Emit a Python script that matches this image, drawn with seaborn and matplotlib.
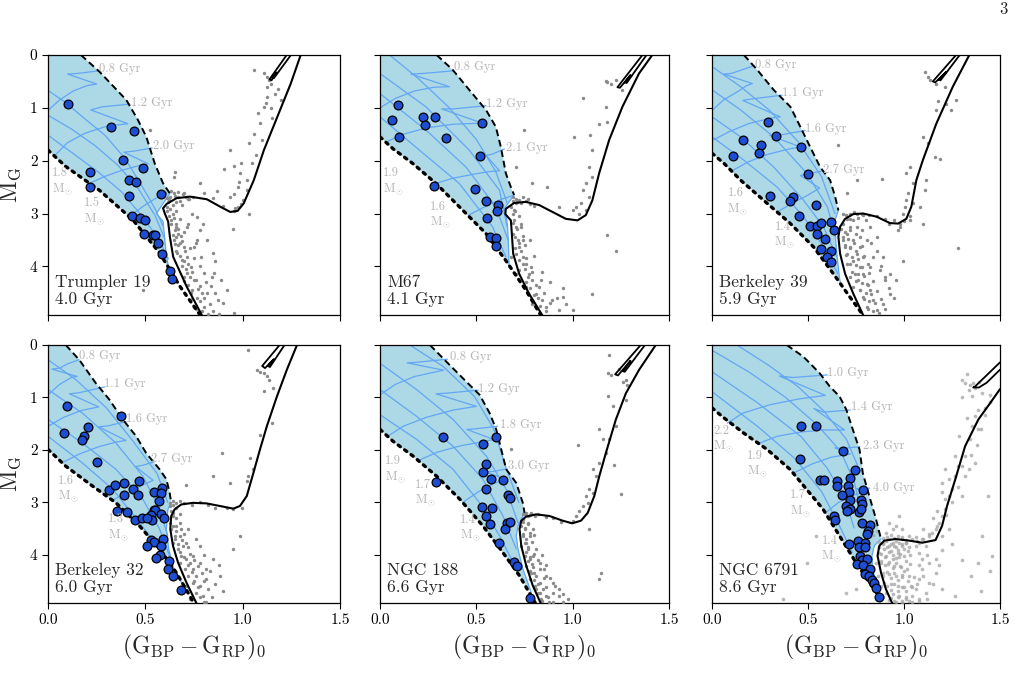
import matplotlib
matplotlib.use("Agg")
import matplotlib.pyplot as plt
import seaborn as sns

# ---------------- data ----------------
CLUSTER_NAMES = ["Trumpler 19", "M67", "Berkeley 39", "Berkeley 32", "NGC 188", "NGC 6791"]
CLUSTER_AGES = ["4.0 Gyr", "4.1 Gyr", "5.9 Gyr", "6.0 Gyr", "6.6 Gyr", "8.6 Gyr"]
X_TICKS = [0.0, 0.5, 1.0, 1.5]
X_TICK_LABELS = ["0.0", "0.5", "1.0", "1.5"]
Y_TICKS = [0, 1, 2, 3, 4]
Y_TICK_LABELS = ["0", "1", "2", "3", "4"]

# ---- Trumpler 19 ----
TR19_ZAMS = [(0, 1.80), (0.091, 2.11), (0.264, 2.56), (0.436, 3.12), (0.574, 3.75), (0.678, 4.38), (0.781, 4.92)]
TR19_TAMS = [(0.169, 0), (0.264, 0.315), (0.402, 0.85), (0.462, 1.23), (0.505, 1.55), (0.548, 2.05), (0.591, 2.43), (0.626, 2.62)]
TR19_EDGE = [(0.626, 2.62), (0.557, 3.0), (0.591, 3.15), (0.600, 3.5), (0.609, 3.82), (0.622, 4.07), (0.645, 4.2)]
TR19_ISO = [(0.79, 4.92), (0.712, 4.38), (0.643, 3.82), (0.626, 3.44), (0.617, 3.15), (0.60, 3.0), (0.591, 2.90),
            (0.609, 2.82), (0.66, 2.71), (0.729, 2.68), (0.816, 2.73), (0.884, 2.87), (0.936, 2.97), (0.974, 2.95),
            (1.005, 2.81), (1.057, 2.37), (1.109, 1.80), (1.178, 1.17), (1.247, 0.54), (1.298, 0.0)]
TR19_CLUMP = [(1.226, 0.0), (1.138, 0.46), (1.148, 0.48), (1.175, 0.33), (1.150, 0.42), (1.160, 0.44), (1.248, 0.0)]
TR19_BSS = [(0.103, 0.92), (0.324, 1.37), (0.44, 1.44), (0.386, 1.99), (0.49, 2.14), (0.216, 2.21), (0.216, 2.50),
            (0.414, 2.37), (0.452, 2.41), (0.414, 2.67), (0.581, 2.63), (0.431, 3.04), (0.471, 3.09), (0.50, 3.12),
            (0.495, 3.39), (0.54, 3.40), (0.548, 3.40), (0.566, 3.56), (0.588, 3.76), (0.626, 4.08), (0.636, 4.23)]
TR19_GREY = [(1.057, 0.28), (1.109, 0.35), (1.126, 0.41), (1.134, 0.47), (1.147, 0.54), (1.126, 0.60), (1.164, 0.73),
             (1.198, 0.85), (1.126, 0.80), (1.112, 0.98), (1.147, 1.01), (1.091, 1.29), (1.06, 1.50), (1.031, 1.67),
             (0.936, 1.80), (0.953, 2.11), (0.905, 2.15), (0.988, 2.24), (1.022, 2.37), (0.974, 2.49), (0.953, 2.63),
             (0.936, 2.68), (0.991, 2.82), (0.974, 2.88), (0.953, 2.95), (0.867, 2.57), (0.781, 2.43), (0.652, 2.21),
             (0.647, 2.30), (0.522, 1.42), (0.629, 2.68), (0.647, 2.62), (0.669, 2.68), (0.691, 2.63), (0.709, 2.68),
             (0.726, 2.73), (0.747, 2.68), (0.66, 2.79), (0.686, 2.83), (0.617, 2.79), (0.609, 2.87), (0.629, 2.91),
             (0.643, 3.0), (0.634, 3.12), (0.66, 3.19), (0.652, 3.31), (0.669, 3.38), (0.647, 3.50), (0.678, 3.56),
             (0.698, 3.63), (0.664, 3.75), (0.716, 3.82), (0.686, 3.88), (0.733, 4.01), (0.712, 4.13), (0.75, 4.26),
             (0.781, 4.38), (0.816, 4.51), (0.764, 4.59), (0.802, 4.76), (0.85, 4.84), (0.871, 4.64), (0.957, 4.89),
             (0.802, 4.13), (0.853, 4.13), (0.75, 3.63), (0.716, 3.25), (0.767, 3.50), (0.784, 3.82), (0.698, 4.27),
             (0.733, 4.51), (0.75, 4.76), (0.836, 4.38), (0.764, 3.06), (0.781, 3.31), (0.85, 3.75), (0.888, 4.26),
             (0.798, 3.20), (0.816, 3.50), (0.488, 4.45)]
TR19_GREY2 = [(0.60, 2.62), (0.61, 2.70), (0.63, 2.58), (0.65, 2.66), (0.62, 2.75), (0.64, 2.83), (0.67, 2.60),
              (0.70, 2.62), (0.72, 2.72), (0.68, 2.76), (0.61, 2.95), (0.62, 3.05), (0.63, 3.20), (0.645, 3.08),
              (0.655, 3.25), (0.64, 3.40), (0.66, 3.45), (0.67, 3.30), (0.685, 3.42), (0.65, 3.58), (0.67, 3.60),
              (0.69, 3.52), (0.705, 3.70), (0.66, 3.70), (0.68, 3.80), (0.70, 3.90), (0.72, 3.95), (0.69, 4.00),
              (0.71, 4.05), (0.74, 4.10), (0.70, 4.20), (0.73, 4.20), (0.76, 4.25), (0.72, 4.35), (0.74, 4.45),
              (0.77, 4.42), (0.79, 4.50), (0.74, 4.62), (0.78, 4.65), (0.80, 4.60), (0.76, 4.80), (0.79, 4.85),
              (0.83, 4.72), (0.82, 4.90), (0.86, 4.50), (0.90, 4.70), (0.75, 3.85), (0.73, 3.65), (0.76, 3.55),
              (0.70, 3.35), (0.72, 3.20), (0.68, 3.10), (0.66, 2.95), (0.74, 3.0), (0.78, 4.0), (0.81, 4.3),
              (0.84, 4.2), (0.88, 4.9), (0.92, 4.45), (0.86, 3.9), (0.80, 2.62), (0.85, 2.70), (0.90, 2.85),
              (0.96, 2.90), (1.00, 2.75), (1.02, 2.55), (0.98, 2.40), (1.05, 2.05), (1.07, 1.90), (1.10, 1.60),
              (1.15, 1.20), (1.08, 1.10), (0.99, 2.05), (1.03, 3.0), (0.95, 3.30), (1.12, 0.9), (1.18, 0.65)]
TR19_TRACKS = [
    [(0.0, 1.05), (0.06, 0.85), (0.13, 0.68), (0.20, 0.58), (0.25, 0.55), (0.10, 0.36), (0.15, 0.35), (0.26, 0.30)],
    [(0.03, 1.92), (0.10, 1.66), (0.19, 1.48), (0.30, 1.35), (0.41, 1.30), (0.22, 1.04), (0.28, 0.98), (0.42, 0.93)],
    [(0.20, 2.45), (0.29, 2.30), (0.39, 2.17), (0.47, 2.09), (0.515, 2.06), (0.39, 1.84), (0.44, 1.82), (0.535, 1.76)],
    [(0.42, 3.05), (0.49, 2.86), (0.55, 2.72), (0.60, 2.62)],
]
TR19_BLUEISO = [
    [(0, 0.67), (0.087, 0.89), (0.19, 1.21), (0.293, 1.52), (0.396, 1.96), (0.481, 2.47), (0.55, 2.91), (0.59, 3.23)],
    [(0, 1.14), (0.12, 1.40), (0.24, 1.71), (0.36, 2.09), (0.464, 2.53), (0.55, 3.04), (0.60, 3.48)],
    [(0, 1.52), (0.12, 1.84), (0.26, 2.22), (0.378, 2.59), (0.481, 3.04), (0.567, 3.48), (0.618, 3.86)],
]
TR19_AGE_LABELS = [("0.8 Gyr", 0.264, 0.27), ("1.2 Gyr", 0.428, 0.91), ("2.0 Gyr", 0.54, 1.72)]
TR19_MASS_LABELS = [("1.8", 0.02, 2.40), ("1.5", 0.186, 2.97)]

# ---- M67 ----
M67_ZAMS = [(0, 1.55), (0.066, 1.77), (0.169, 2.05), (0.29, 2.43), (0.411, 2.87), (0.55, 3.38), (0.653, 3.89), (0.757, 4.45), (0.835, 4.93)]
M67_TAMS = [(0.294, 0), (0.377, 0.28), (0.463, 0.66), (0.55, 1.04), (0.601, 1.36), (0.627, 1.74), (0.653, 2.24), (0.679, 2.50), (0.696, 2.65)]
M67_EDGE = [(0.696, 2.65), (0.644, 2.91), (0.653, 3.0), (0.662, 3.25), (0.667, 3.63), (0.67, 4.02)]
M67_ISO = [(0.843, 4.93), (0.774, 4.52), (0.722, 4.14), (0.691, 3.76), (0.684, 3.38), (0.679, 3.13), (0.65, 3.01),
           (0.653, 2.91), (0.696, 2.80), (0.757, 2.78), (0.826, 2.84), (0.895, 2.97), (0.964, 3.10), (1.025, 3.13),
           (1.068, 3.03), (1.102, 2.75), (1.137, 2.24), (1.189, 1.61), (1.258, 0.98), (1.344, 0.35), (1.413, 0.0)]
M67_CLUMP = [(1.362, 0.0), (1.232, 0.61), (1.245, 0.62), (1.30, 0.38), (1.27, 0.52), (1.28, 0.53), (1.383, 0.0)]
M67_BSS = [(0.093, 0.95), (0.064, 1.23), (0.097, 1.55), (0.221, 1.18), (0.232, 1.33), (0.285, 1.18), (0.342, 1.57),
           (0.53, 1.28), (0.518, 1.91), (0.282, 2.47), (0.492, 2.53), (0.55, 2.76), (0.61, 2.84), (0.605, 2.96),
           (0.553, 3.08), (0.572, 3.44), (0.601, 3.46), (0.601, 3.62)]
M67_GREY = [(1.18, 0.51), (1.198, 0.54), (1.223, 0.47), (1.175, 0.49), (1.258, 0.66), (1.054, 0.82), (1.172, 0.98),
            (1.18, 1.26), (1.137, 1.30), (1.089, 1.52), (1.007, 1.55), (1.102, 1.80), (1.085, 2.12), (1.102, 2.31),
            (1.068, 2.43), (1.051, 2.56), (1.085, 2.68), (1.042, 2.81), (1.016, 2.87), (1.068, 2.94), (1.033, 3.0),
            (0.999, 2.94), (0.93, 2.87), (0.869, 2.50), (0.791, 2.43), (0.705, 2.12), (0.748, 1.42), (1.18, 3.41),
            (1.223, 3.70), (1.102, 4.52), (0.688, 2.68), (0.705, 2.72), (0.722, 2.74), (0.74, 2.68), (0.766, 2.72),
            (0.705, 2.81), (0.679, 2.87), (0.696, 2.94), (0.688, 3.0), (0.696, 3.13), (0.705, 3.25), (0.688, 3.38),
            (0.714, 3.51), (0.722, 3.63), (0.705, 3.76), (0.74, 3.82), (0.757, 3.95), (0.722, 4.07), (0.774, 4.14),
            (0.791, 4.26), (0.757, 4.39), (0.826, 4.39), (0.809, 4.52), (0.843, 4.64), (0.791, 4.71), (0.86, 4.77),
            (0.93, 4.83), (0.895, 4.64), (0.964, 4.71), (0.835, 4.26), (0.783, 4.01), (0.74, 3.51), (0.731, 3.25),
            (0.947, 4.58), (0.999, 4.83), (0.766, 4.52), (0.705, 4.14), (0.679, 3.82)]
M67_GREY2 = [(0.69, 2.76), (0.71, 2.78), (0.73, 2.80), (0.76, 2.76), (0.78, 2.82), (0.80, 2.86), (0.70, 2.95),
             (0.72, 3.05), (0.69, 3.18), (0.71, 3.30), (0.73, 3.20), (0.70, 3.45), (0.72, 3.55), (0.74, 3.42),
             (0.70, 3.65), (0.73, 3.70), (0.75, 3.60), (0.72, 3.88), (0.74, 3.95), (0.76, 3.85), (0.75, 4.05),
             (0.77, 4.20), (0.79, 4.10), (0.76, 4.30), (0.78, 4.40), (0.81, 4.35), (0.80, 4.55), (0.82, 4.60),
             (0.85, 4.50), (0.83, 4.75), (0.86, 4.85), (0.88, 4.70), (0.90, 4.95), (0.82, 4.95), (0.88, 4.30),
             (0.92, 4.60), (0.78, 3.50), (0.80, 3.80), (0.84, 4.10), (0.95, 4.40)]
M67_TRACKS = [
    [(0.0, 1.0), (0.08, 0.82), (0.18, 0.68), (0.28, 0.61), (0.36, 0.60), (0.16, 0.36), (0.22, 0.35), (0.38, 0.30)],
    [(0.03, 1.65), (0.12, 1.50), (0.24, 1.38), (0.38, 1.31), (0.53, 1.29), (0.32, 1.02), (0.38, 1.02), (0.55, 0.96)],
    [(0.29, 2.43), (0.38, 2.33), (0.48, 2.26), (0.56, 2.21), (0.62, 2.19), (0.55, 1.90), (0.58, 1.88), (0.645, 1.78)],
    [(0.46, 3.03), (0.55, 2.86), (0.63, 2.73), (0.69, 2.66)],
]
M67_BLUEISO = [
    [(0.05, 0.0), (0.2, 0.45), (0.36, 1.0), (0.5, 1.6), (0.6, 2.2), (0.66, 2.8)],
    [(0, 0.35), (0.238, 0.98), (0.463, 1.80), (0.62, 2.56), (0.66, 3.25)],
    [(0, 0.73), (0.238, 1.42), (0.446, 2.12), (0.60, 2.87), (0.665, 3.5)],
    [(0, 1.17), (0.204, 1.80), (0.411, 2.43), (0.584, 3.25), (0.653, 3.82)],
]
M67_AGE_LABELS = [("0.8 Gyr", 0.385, 0.22), ("1.2 Gyr", 0.55, 0.93), ("2.1 Gyr", 0.653, 1.75)]
M67_MASS_LABELS = [("1.9", 0.014, 2.40), ("1.6", 0.261, 3.03)]

# ---- Berkeley 39 ----
B39_ZAMS = [(0, 1.86), (0.062, 2.05), (0.149, 2.37), (0.269, 2.75), (0.408, 3.19), (0.528, 3.63), (0.632, 4.14), (0.718, 4.58), (0.788, 4.93)]
B39_TAMS = [(0.166, 0), (0.235, 0.28), (0.321, 0.66), (0.408, 0.98), (0.46, 1.36), (0.511, 1.74), (0.563, 2.12), (0.615, 2.37), (0.641, 2.68), (0.658, 2.94)]
B39_EDGE = [(0.658, 2.94), (0.632, 3.22), (0.641, 3.38), (0.65, 3.76), (0.663, 4.2), (0.668, 4.3)]
B39_ISO = [(0.788, 4.93), (0.736, 4.52), (0.693, 4.14), (0.667, 3.76), (0.658, 3.44), (0.667, 3.25), (0.693, 3.10),
           (0.736, 3.01), (0.788, 3.0), (0.857, 3.06), (0.926, 3.18), (0.969, 3.19), (1.012, 3.10), (1.038, 2.87),
           (1.064, 2.37), (1.098, 1.99), (1.168, 1.30), (1.254, 0.60), (1.34, 0.0)]
B39_CLUMP = [(1.271, 0.0), (1.15, 0.50), (1.162, 0.52), (1.22, 0.32), (1.18, 0.47), (1.19, 0.48), (1.29, 0.0)]
B39_BSS = [(0.29, 1.26), (0.162, 1.60), (0.257, 1.71), (0.247, 1.86), (0.109, 1.92), (0.335, 1.54), (0.465, 1.75),
           (0.501, 2.26), (0.304, 2.66), (0.421, 2.69), (0.404, 2.77), (0.542, 2.84), (0.454, 3.04), (0.508, 3.23),
           (0.546, 3.23), (0.567, 3.17), (0.617, 3.16), (0.634, 3.32), (0.546, 3.39), (0.587, 3.49), (0.568, 3.68),
           (0.62, 3.71), (0.598, 3.83), (0.618, 3.91)]
B39_GREY = [(1.107, 0.32), (1.124, 0.41), (1.133, 0.47), (1.168, 0.54), (1.211, 0.60), (1.176, 0.88), (1.219, 0.92),
            (1.245, 1.04), (1.168, 1.04), (1.271, 0.85), (1.098, 1.55), (1.124, 1.67), (1.159, 1.93), (1.185, 1.96),
            (1.116, 2.37), (1.107, 2.56), (1.029, 2.12), (1.012, 2.24), (1.047, 2.43), (1.021, 2.62), (1.012, 2.75),
            (1.047, 2.81), (1.081, 2.87), (1.003, 2.87), (0.995, 3.0), (1.029, 3.13), (0.978, 3.19), (0.969, 3.32),
            (1.098, 3.19), (0.883, 2.34), (0.753, 2.37), (0.701, 2.62), (1.28, 3.66), (0.658, 1.71), (0.684, 3.0),
            (0.718, 3.0), (0.753, 3.0), (0.788, 3.03), (0.701, 3.10), (0.736, 3.13), (0.684, 3.19), (0.718, 3.25),
            (0.753, 3.25), (0.701, 3.38), (0.684, 3.51), (0.736, 3.51), (0.718, 3.63), (0.701, 3.76), (0.753, 3.76),
            (0.736, 3.89), (0.701, 3.95), (0.77, 4.01), (0.744, 4.14), (0.718, 4.20), (0.788, 4.14), (0.762, 4.26),
            (0.805, 4.33), (0.736, 4.39), (0.77, 4.45), (0.822, 4.45), (0.788, 4.58), (0.839, 4.64), (0.753, 4.71),
            (0.805, 4.77), (0.857, 4.83), (0.891, 4.71), (0.926, 4.52), (0.96, 4.26), (0.874, 4.07), (0.9, 4.26),
            (0.839, 3.82), (0.805, 3.51), (0.779, 3.32), (0.822, 3.25), (0.857, 3.44), (0.77, 3.63), (0.891, 3.82),
            (0.926, 4.14), (0.995, 3.89), (0.822, 4.01), (0.788, 3.82), (0.693, 3.63)]
B39_GREY2 = [(0.70, 3.02), (0.74, 2.98), (0.78, 3.00), (0.82, 3.02), (0.86, 3.05), (0.90, 3.10), (0.95, 3.12),
             (1.00, 3.15), (1.03, 3.05), (0.72, 3.10), (0.76, 3.08), (0.80, 3.12), (0.92, 3.20), (0.98, 3.25),
             (0.67, 3.30), (0.69, 3.35), (0.72, 3.32), (0.75, 3.38), (0.68, 3.45), (0.71, 3.48), (0.74, 3.55),
             (0.77, 3.45), (0.69, 3.60), (0.72, 3.65), (0.75, 3.70), (0.78, 3.62), (0.70, 3.78), (0.73, 3.82),
             (0.76, 3.86), (0.79, 3.80), (0.72, 3.95), (0.75, 3.98), (0.78, 4.02), (0.81, 3.95), (0.73, 4.10),
             (0.76, 4.15), (0.79, 4.18), (0.82, 4.12), (0.75, 4.28), (0.78, 4.32), (0.81, 4.35), (0.84, 4.28),
             (0.77, 4.45), (0.80, 4.50), (0.83, 4.52), (0.86, 4.46), (0.79, 4.62), (0.82, 4.66), (0.85, 4.70),
             (0.88, 4.62), (0.81, 4.80), (0.84, 4.84), (0.87, 4.88), (0.90, 4.80), (0.86, 3.70), (0.88, 4.00),
             (0.92, 4.40), (0.95, 4.60), (0.83, 3.55), (0.90, 4.20)]
B39_TRACKS = [
    [(0.0, 1.05), (0.06, 0.85), (0.13, 0.70), (0.18, 0.58), (0.21, 0.54), (0.06, 0.36), (0.10, 0.35), (0.22, 0.20)],
    [(0.0, 1.62), (0.09, 1.45), (0.19, 1.30), (0.30, 1.20), (0.355, 1.17), (0.16, 0.86), (0.21, 0.83), (0.365, 0.76)],
    [(0.10, 2.20), (0.19, 2.02), (0.29, 1.88), (0.40, 1.78), (0.46, 1.74), (0.30, 1.52), (0.36, 1.51), (0.485, 1.43)],
    [(0.34, 2.97), (0.42, 2.80), (0.50, 2.65), (0.56, 2.52), (0.46, 2.28), (0.50, 2.25), (0.58, 2.19)],
]
B39_BLUEISO = [
    [(0, 0.22), (0.149, 0.60), (0.30, 1.05), (0.45, 1.65), (0.57, 2.3), (0.64, 3.0)],
    [(0, 0.66), (0.149, 1.04), (0.321, 1.55), (0.494, 2.24), (0.60, 2.87), (0.645, 3.45)],
    [(0, 1.17), (0.149, 1.55), (0.321, 2.12), (0.477, 2.75), (0.58, 3.25), (0.65, 3.82)],
    [(0, 1.55), (0.166, 1.99), (0.339, 2.50), (0.477, 3.06), (0.58, 3.63), (0.655, 4.14)],
]
B39_AGE_LABELS = [("0.8 Gyr", 0.226, 0.18), ("1.1 Gyr", 0.364, 0.71), ("1.6 Gyr", 0.485, 1.40), ("2.7 Gyr", 0.58, 2.17)]
B39_MASS_LABELS = [("1.6", 0.08, 2.78), ("1.4", 0.325, 3.42)]

# ---- Berkeley 32 ----
B32_ZAMS = [(0, 1.99), (0.091, 2.31), (0.229, 2.69), (0.349, 3.01), (0.47, 3.45), (0.573, 3.89), (0.659, 4.34), (0.728, 4.78), (0.748, 4.92)]
B32_TAMS = [(0.091, 0), (0.16, 0.28), (0.246, 0.73), (0.315, 1.04), (0.384, 1.42), (0.453, 1.74), (0.504, 2.06), (0.573, 2.37), (0.608, 2.56), (0.625, 2.82), (0.633, 3.01)]
B32_EDGE = [(0.633, 3.01), (0.616, 3.13), (0.608, 3.51), (0.62, 3.89), (0.645, 4.25), (0.69, 4.56)]
B32_ISO = [(0.762, 4.92), (0.711, 4.53), (0.668, 4.15), (0.642, 3.83), (0.628, 3.51), (0.633, 3.26), (0.651, 3.13),
           (0.685, 3.04), (0.745, 3.01), (0.814, 3.02), (0.883, 3.07), (0.952, 3.12), (0.986, 3.07), (1.021, 2.88),
           (1.055, 2.44), (1.089, 1.99), (1.124, 1.55), (1.176, 0.98), (1.227, 0.47), (1.279, 0.0)]
B32_CLUMP = [(1.19, 0.0), (1.10, 0.40), (1.115, 0.44), (1.16, 0.27), (1.13, 0.40), (1.14, 0.42), (1.215, 0.0)]
B32_BSS = [(0.096, 1.16), (0.084, 1.68), (0.207, 1.56), (0.184, 1.74), (0.177, 1.81), (0.375, 1.35), (0.25, 2.23),
           (0.315, 2.77), (0.346, 2.66), (0.392, 2.64), (0.392, 2.86), (0.435, 2.74), (0.465, 2.59), (0.461, 2.86),
           (0.542, 2.81), (0.585, 2.72), (0.582, 2.82), (0.568, 2.98), (0.542, 3.14), (0.551, 3.14), (0.53, 3.25),
           (0.535, 3.34), (0.582, 3.23), (0.594, 3.29), (0.356, 3.16), (0.404, 3.18), (0.446, 3.34), (0.484, 3.30),
           (0.509, 3.30), (0.53, 3.72), (0.542, 3.75), (0.59, 3.69), (0.58, 3.84), (0.509, 3.84), (0.573, 4.0),
           (0.556, 4.06), (0.621, 4.11), (0.616, 4.27), (0.64, 4.41), (0.682, 4.68)]
B32_GREY = [(1.029, 0.09), (1.072, 0.47), (1.09, 0.51), (1.107, 0.54), (1.124, 0.60), (1.133, 0.66), (1.158, 0.82),
            (1.107, 0.87), (1.15, 1.49), (1.09, 1.71), (1.055, 2.37), (1.038, 2.15), (1.029, 2.50), (1.021, 2.59),
            (0.892, 2.06), (0.935, 2.63), (0.849, 2.50), (0.995, 3.10), (0.952, 3.13), (0.917, 3.10), (0.711, 2.66),
            (0.625, 3.01), (0.642, 2.97), (0.659, 3.01), (0.676, 2.97), (0.625, 3.07), (0.633, 3.16), (0.642, 3.26),
            (0.625, 3.39), (0.659, 3.45), (0.633, 3.51), (0.651, 3.64), (0.676, 3.64), (0.642, 3.77), (0.668, 3.89),
            (0.694, 3.83), (0.685, 4.02), (0.711, 4.08), (0.676, 4.15), (0.728, 4.15), (0.702, 4.27), (0.745, 4.27),
            (0.719, 4.40), (0.762, 4.40), (0.745, 4.53), (0.78, 4.59), (0.711, 4.59), (0.762, 4.72), (0.797, 4.78),
            (0.814, 4.46), (0.78, 4.15), (0.814, 4.27), (0.745, 4.02), (0.711, 3.77), (0.685, 3.51), (0.78, 3.83),
            (0.849, 4.08), (0.883, 4.40), (0.986, 3.64), (0.952, 3.89), (0.814, 4.91), (0.728, 4.84)]
B32_GREY2 = [(0.64, 3.05), (0.66, 3.10), (0.70, 3.02), (0.74, 3.05), (0.78, 3.00), (0.82, 3.05), (0.86, 3.10),
             (0.64, 3.20), (0.66, 3.30), (0.68, 3.22), (0.64, 3.45), (0.66, 3.55), (0.68, 3.40), (0.70, 3.60),
             (0.65, 3.70), (0.67, 3.80), (0.69, 3.72), (0.72, 3.85), (0.68, 3.95), (0.70, 4.05), (0.73, 3.98),
             (0.75, 4.10), (0.72, 4.20), (0.74, 4.32), (0.77, 4.22), (0.79, 4.35), (0.75, 4.50), (0.77, 4.62),
             (0.80, 4.50), (0.82, 4.65), (0.78, 4.80), (0.80, 4.90), (0.84, 4.80), (0.86, 4.55), (0.83, 4.30),
             (0.76, 3.70), (0.80, 4.00), (0.90, 4.70), (0.72, 3.50), (0.88, 4.20)]
B32_TRACKS = [
    [(0.0, 0.95), (0.06, 0.75), (0.12, 0.62), (0.15, 0.60), (0.02, 0.46), (0.06, 0.44), (0.10, 0.36), (0.16, 0.28)],
    [(0.0, 1.55), (0.08, 1.38), (0.17, 1.25), (0.26, 1.18), (0.11, 0.93), (0.16, 0.91), (0.29, 0.80)],
    [(0.07, 2.25), (0.16, 2.08), (0.26, 1.94), (0.35, 1.85), (0.40, 1.82), (0.26, 1.56), (0.31, 1.54), (0.40, 1.46)],
    [(0.33, 2.96), (0.41, 2.82), (0.48, 2.68), (0.54, 2.58), (0.45, 2.32), (0.49, 2.29), (0.55, 2.22)],
]
B32_BLUEISO = [
    [(0, 0.28), (0.143, 0.66), (0.30, 1.2), (0.44, 1.85), (0.56, 2.45), (0.615, 3.0)],
    [(0, 0.85), (0.177, 1.30), (0.349, 1.87), (0.487, 2.50), (0.573, 3.13), (0.615, 3.64)],
    [(0, 1.42), (0.177, 1.87), (0.349, 2.37), (0.487, 2.94), (0.573, 3.51), (0.632, 4.1)],
    [(0, 1.74), (0.177, 2.25), (0.332, 2.75), (0.47, 3.39), (0.573, 3.89), (0.64, 4.3)],
]
B32_AGE_LABELS = [("0.8 Gyr", 0.16, 0.21), ("1.1 Gyr", 0.289, 0.75), ("1.6 Gyr", 0.401, 1.41), ("2.7 Gyr", 0.53, 2.17)]
B32_MASS_LABELS = [("1.6", 0.053, 2.75), ("1.3", 0.306, 3.49)]

# ---- NGC 188 ----
N188_ZAMS = [(0, 1.61), (0.069, 1.84), (0.172, 2.12), (0.293, 2.50), (0.414, 2.94), (0.534, 3.45), (0.638, 3.96), (0.724, 4.40), (0.793, 4.84), (0.806, 4.92)]
N188_TAMS = [(0.259, 0), (0.345, 0.32), (0.448, 0.70), (0.517, 0.95), (0.569, 1.30), (0.603, 1.61), (0.629, 1.99), (0.655, 2.37), (0.707, 2.63), (0.741, 3.01), (0.75, 3.20)]
N188_EDGE = [(0.75, 3.20), (0.716, 3.45), (0.707, 3.64), (0.716, 3.89), (0.741, 4.27), (0.767, 4.53), (0.784, 4.72)]
N188_ISO = [(0.836, 4.94), (0.793, 4.59), (0.759, 4.21), (0.733, 3.83), (0.724, 3.51), (0.733, 3.35), (0.759, 3.27),
            (0.81, 3.23), (0.879, 3.26), (0.948, 3.35), (0.997, 3.40), (1.043, 3.35), (1.078, 3.20), (1.112, 2.88),
            (1.138, 2.50), (1.172, 2.06), (1.224, 1.42), (1.276, 0.92), (1.345, 0.47), (1.431, 0.0)]
N188_CLUMP = [(1.353, 0.0), (1.22, 0.56), (1.235, 0.58), (1.30, 0.30), (1.26, 0.50), (1.27, 0.51), (1.375, 0.0)]
N188_BSS = [(0.326, 1.75), (0.533, 1.88), (0.603, 1.75), (0.552, 2.26), (0.536, 2.42), (0.576, 2.55), (0.638, 2.58),
            (0.29, 2.61), (0.548, 2.75), (0.664, 2.86), (0.676, 2.91), (0.529, 3.09), (0.579, 3.10), (0.548, 3.26),
            (0.571, 3.41), (0.657, 3.39), (0.674, 3.37), (0.648, 3.51), (0.619, 3.77), (0.695, 4.13), (0.709, 4.22),
            (0.779, 4.83)]
N188_GREY = [(1.19, 0.19), (1.241, 0.46), (1.198, 0.57), (1.181, 0.54), (1.276, 0.66), (1.259, 0.70), (1.284, 0.76),
             (1.181, 0.98), (1.276, 1.04), (1.207, 1.17), (1.138, 1.61), (1.224, 1.55), (1.19, 1.80), (1.155, 1.80),
             (1.172, 2.06), (1.138, 2.25), (1.103, 2.37), (1.121, 2.50), (1.086, 2.75), (1.103, 2.82), (1.069, 2.88),
             (1.078, 3.01), (1.034, 3.16), (1.017, 3.26), (1.0, 3.35), (1.052, 3.07), (1.216, 2.28), (1.25, 2.85),
             (1.026, 1.90), (0.681, 1.99), (1.086, 3.51), (1.147, 4.34), (1.138, 4.46), (0.75, 3.23), (0.767, 3.26),
             (0.784, 3.20), (0.802, 3.26), (0.741, 3.32), (0.733, 3.45), (0.75, 3.51), (0.741, 3.64), (0.759, 3.77),
             (0.733, 3.83), (0.767, 3.89), (0.75, 4.02), (0.776, 4.08), (0.759, 4.21), (0.793, 4.24), (0.784, 4.34),
             (0.81, 4.40), (0.776, 4.46), (0.828, 4.53), (0.802, 4.59), (0.845, 4.65), (0.819, 4.72), (0.862, 4.78),
             (0.836, 4.84), (0.879, 4.91), (0.897, 4.72), (0.853, 4.27), (0.828, 4.15), (0.862, 4.40), (0.897, 4.53),
             (0.931, 4.65), (0.793, 4.02), (0.81, 3.89), (0.931, 4.78), (0.948, 4.91), (0.974, 4.84), (0.776, 3.64),
             (0.793, 3.51), (0.767, 3.39)]
N188_GREY2 = [(0.74, 3.22), (0.76, 3.20), (0.78, 3.24), (0.82, 3.22), (0.86, 3.28), (0.90, 3.30), (0.94, 3.38),
              (0.74, 3.38), (0.75, 3.48), (0.77, 3.42), (0.74, 3.60), (0.76, 3.70), (0.78, 3.58), (0.75, 3.78),
              (0.77, 3.85), (0.79, 3.75), (0.76, 3.95), (0.78, 4.05), (0.80, 3.98), (0.77, 4.12), (0.79, 4.18),
              (0.82, 4.10), (0.78, 4.30), (0.80, 4.35), (0.83, 4.28), (0.80, 4.48), (0.82, 4.55), (0.85, 4.45),
              (0.81, 4.65), (0.83, 4.72), (0.86, 4.62), (0.84, 4.88), (0.87, 4.80), (0.90, 4.90), (0.88, 4.45),
              (0.91, 4.60), (0.84, 4.00), (0.80, 3.62), (0.95, 4.75), (0.86, 4.20)]
N188_TRACKS = [
    [(0.0, 0.95), (0.08, 0.75), (0.18, 0.60), (0.28, 0.52), (0.33, 0.48), (0.14, 0.34), (0.19, 0.33), (0.35, 0.27)],
    [(0.04, 1.74), (0.12, 1.55), (0.24, 1.38), (0.38, 1.24), (0.50, 1.17), (0.29, 0.93), (0.34, 0.92), (0.51, 0.86)],
    [(0.20, 2.20), (0.30, 2.04), (0.42, 1.92), (0.54, 1.84), (0.59, 1.80), (0.45, 1.61), (0.49, 1.60), (0.61, 1.55)],
    [(0.43, 3.00), (0.51, 2.80), (0.59, 2.64), (0.65, 2.56), (0.55, 2.42), (0.59, 2.41), (0.66, 2.36)],
]
N188_BLUEISO = [
    [(0.155, 0), (0.328, 0.41), (0.49, 0.98), (0.59, 1.6), (0.65, 2.3), (0.72, 3.0)],
    [(0, 0.35), (0.19, 0.85), (0.379, 1.42), (0.552, 2.12), (0.655, 2.75), (0.716, 3.39)],
    [(0, 0.85), (0.19, 1.36), (0.379, 1.93), (0.534, 2.56), (0.638, 3.26), (0.707, 3.89)],
    [(0, 1.33), (0.19, 1.80), (0.379, 2.37), (0.517, 3.01), (0.621, 3.64), (0.707, 4.27)],
]
N188_AGE_LABELS = [("0.8 Gyr", 0.362, 0.23), ("1.2 Gyr", 0.509, 0.83), ("1.8 Gyr", 0.621, 1.53), ("3.0 Gyr", 0.664, 2.31)]
N188_MASS_LABELS = [("1.9", 0.026, 2.38), ("1.7", 0.181, 2.83), ("1.4", 0.414, 3.50)]

# ---- NGC 6791 ----
N6791_ZAMS = [(0, 1.20), (0.062, 1.39), (0.165, 1.68), (0.286, 1.99), (0.406, 2.37), (0.492, 2.75), (0.578, 3.13), (0.664, 3.64), (0.75, 4.15), (0.819, 4.53), (0.88, 4.84)]
N6791_TAMS = [(0.389, 0), (0.475, 0.22), (0.561, 0.54), (0.613, 0.79), (0.664, 0.98), (0.699, 1.23), (0.733, 1.61), (0.768, 1.99), (0.785, 2.44), (0.819, 2.88), (0.854, 3.32), (0.88, 3.70)]
N6791_EDGE = [(0.88, 3.70), (0.845, 3.83), (0.833, 4.02), (0.836, 4.27), (0.854, 4.53), (0.88, 4.78)]
N6791_ISO = [(0.94, 4.94), (0.905, 4.65), (0.88, 4.34), (0.862, 4.02), (0.871, 3.83), (0.897, 3.73), (0.957, 3.70),
             (1.026, 3.73), (1.095, 3.77), (1.164, 3.72), (1.198, 3.45), (1.224, 3.07), (1.267, 2.56), (1.318, 1.93),
             (1.387, 1.42), (1.448, 1.11), (1.50, 0.84)]
N6791_CLUMP = [(1.50, 0.33), (1.37, 0.79), (1.36, 0.81), (1.39, 0.81), (1.43, 0.72), (1.50, 0.47)]
N6791_BSS = [(0.461, 1.54), (0.544, 1.54), (0.683, 2.02), (0.458, 2.18), (0.742, 2.38), (0.561, 2.58), (0.582, 2.58),
             (0.649, 2.59), (0.652, 2.68), (0.718, 2.54), (0.709, 2.68), (0.785, 2.77), (0.713, 2.80), (0.678, 2.86),
             (0.719, 2.96), (0.776, 2.95), (0.783, 3.04), (0.699, 3.07), (0.716, 3.12), (0.702, 3.17), (0.764, 3.18),
             (0.776, 3.13), (0.635, 3.26), (0.642, 3.34), (0.781, 3.39), (0.823, 3.44), (0.811, 3.54), (0.807, 3.61),
             (0.759, 3.74), (0.799, 3.77), (0.713, 3.80), (0.764, 3.85), (0.799, 3.86), (0.773, 4.02), (0.781, 4.10),
             (0.807, 4.08), (0.755, 4.18), (0.785, 4.20), (0.825, 4.28), (0.799, 4.37), (0.816, 4.41), (0.833, 4.49),
             (0.845, 4.54), (0.854, 4.64), (0.871, 4.80)]
N6791_GREY = [(1.301, 0.66), (1.318, 0.73), (1.344, 0.76), (1.361, 0.73), (1.37, 0.82), (1.336, 0.85), (1.353, 0.98),
              (1.404, 0.92), (1.387, 1.23), (1.37, 1.36), (1.353, 1.55), (1.387, 1.61), (1.344, 1.80), (1.318, 2.12),
              (1.301, 2.31), (1.267, 2.50), (1.25, 2.75), (1.232, 2.88), (1.215, 2.94), (1.215, 3.13), (1.198, 3.26),
              (1.181, 3.39), (1.164, 3.51), (1.146, 3.58), (1.129, 3.64), (1.095, 3.70), (1.077, 3.77), (1.112, 3.83),
              (1.06, 3.67), (1.026, 3.64), (1.009, 3.77), (0.991, 3.70), (1.198, 3.64), (1.301, 2.88), (1.336, 2.37),
              (1.37, 2.25), (1.232, 2.56), (1.267, 2.12), (1.439, 2.88), (1.404, 3.64), (1.456, 4.02), (1.387, 4.15),
              (1.232, 3.51), (1.172, 3.16), (1.198, 2.63), (1.284, 1.74), (1.422, 1.33), (1.447, 1.08), (1.215, 2.37),
              (0.888, 3.77), (0.905, 3.73), (0.923, 3.70), (0.94, 3.77), (0.957, 3.73), (0.974, 3.77), (0.991, 3.80),
              (1.009, 3.77), (0.923, 3.83), (0.957, 3.86), (0.897, 3.89), (0.931, 3.92), (0.966, 3.96), (1.0, 3.89),
              (1.026, 3.86), (1.06, 3.83), (0.871, 3.96), (0.905, 4.02), (0.94, 4.08), (0.974, 4.05), (1.009, 4.11),
              (0.88, 4.15), (0.914, 4.18), (0.948, 4.21), (0.983, 4.24), (1.017, 4.27), (0.888, 4.34), (0.923, 4.37),
              (0.957, 4.40), (0.991, 4.43), (1.026, 4.40), (0.897, 4.53), (0.931, 4.56), (0.966, 4.59), (1.0, 4.62),
              (1.034, 4.59), (0.905, 4.72), (0.94, 4.75), (0.974, 4.78), (1.009, 4.81), (1.043, 4.78), (0.923, 4.87),
              (0.957, 4.91), (0.991, 4.92), (1.026, 4.89), (1.06, 4.65), (1.077, 4.46), (1.095, 4.27), (1.095, 4.08),
              (1.077, 3.96), (0.854, 4.15), (0.862, 4.40), (0.88, 4.59), (0.888, 4.81), (1.077, 4.84), (1.112, 4.72),
              (1.129, 4.53), (1.129, 4.15), (1.164, 4.34), (0.923, 3.39), (0.905, 3.58), (0.94, 3.51), (0.957, 3.45),
              (0.974, 3.26), (0.991, 3.51), (1.164, 4.08), (1.198, 4.65), (1.267, 4.78), (0.75, 4.65), (0.699, 4.72),
              (0.544, 3.64), (0.492, 4.15), (0.372, 4.84)]
N6791_GREY2 = [(0.87, 3.75), (0.89, 3.68), (0.91, 3.66), (0.93, 3.62), (0.95, 3.68), (0.97, 3.64), (0.99, 3.66),
               (1.01, 3.72), (1.04, 3.70), (1.07, 3.74), (1.10, 3.70), (1.13, 3.60), (0.87, 3.85), (0.89, 3.80),
               (0.91, 3.86), (0.93, 3.80), (0.95, 3.84), (0.97, 3.90), (0.99, 3.84), (1.02, 3.92), (0.88, 3.98),
               (0.90, 4.05), (0.92, 3.95), (0.94, 4.00), (0.96, 4.06), (0.98, 3.98), (1.00, 4.02), (1.03, 4.00),
               (0.88, 4.12), (0.90, 4.20), (0.92, 4.14), (0.94, 4.25), (0.96, 4.15), (0.98, 4.22), (1.00, 4.30),
               (1.03, 4.18), (0.89, 4.40), (0.91, 4.32), (0.93, 4.45), (0.95, 4.35), (0.97, 4.48), (0.99, 4.38),
               (1.02, 4.50), (1.05, 4.42), (0.91, 4.60), (0.93, 4.68), (0.95, 4.55), (0.97, 4.70), (0.99, 4.62),
               (1.01, 4.70), (1.04, 4.62), (1.07, 4.55), (0.93, 4.82), (0.95, 4.88), (0.97, 4.80), (0.99, 4.88),
               (1.01, 4.84), (1.04, 4.90), (1.08, 4.88), (1.12, 4.85), (1.10, 4.40), (1.15, 4.55), (1.18, 4.20),
               (1.08, 4.20), (1.12, 4.00), (1.20, 3.90), (1.25, 3.80), (1.30, 4.10), (1.35, 4.40), (1.40, 4.70),
               (1.45, 4.30), (0.80, 4.95), (0.84, 3.62), (0.86, 3.55), (1.17, 3.45), (1.22, 3.25), (1.25, 3.0),
               (1.28, 2.70), (1.32, 2.50), (1.35, 2.10), (1.38, 1.90), (1.40, 1.60), (1.33, 1.40), (1.42, 1.20),
               (1.30, 1.00), (1.39, 0.70), (1.45, 0.95), (1.33, 0.55), (1.28, 2.30), (1.20, 2.80), (1.15, 3.30),
               (1.10, 3.50)]
N6791_TRACKS = [
    [(0.08, 1.49), (0.16, 1.30), (0.30, 1.14), (0.45, 1.03), (0.59, 0.96), (0.35, 0.59), (0.42, 0.62), (0.60, 0.57)],
    [(0.24, 1.88), (0.34, 1.74), (0.46, 1.66), (0.58, 1.62), (0.69, 1.62), (0.53, 1.21), (0.58, 1.28), (0.72, 1.24)],
    [(0.42, 2.45), (0.52, 2.27), (0.62, 2.14), (0.72, 2.08), (0.64, 1.96), (0.68, 1.97), (0.77, 1.94)],
    [(0.59, 3.2), (0.66, 3.0), (0.74, 2.86), (0.80, 2.80), (0.75, 2.74), (0.82, 2.73)],
]
N6791_BLUEISO = [
    [(0.13, 0.0), (0.30, 0.40), (0.45, 0.80), (0.58, 1.25), (0.70, 1.80), (0.77, 2.40)],
    [(0, 0.10), (0.19, 0.51), (0.38, 0.99), (0.55, 1.53), (0.67, 2.03), (0.74, 2.60), (0.78, 3.23)],
    [(0, 0.51), (0.24, 1.11), (0.465, 1.75), (0.60, 2.35), (0.69, 2.92), (0.74, 3.49)],
    [(0, 0.89), (0.24, 1.56), (0.43, 2.16), (0.57, 2.79), (0.66, 3.42), (0.73, 3.95)],
]
N6791_AGE_LABELS = [("1.0 Gyr", 0.6, 0.54), ("1.4 Gyr", 0.725, 1.18), ("2.3 Gyr", 0.785, 1.92), ("4.0 Gyr", 0.836, 2.73)]
N6791_MASS_LABELS = [("2.2", 0.007, 1.80), ("1.9", 0.182, 2.28), ("1.7", 0.406, 3.03), ("1.4", 0.57, 3.90)]

# ---------------- style ----------------
sns.set_style("ticks")
plt.rcParams.update({
    "font.family": ["cmr10", "DejaVu Serif"],
    "mathtext.fontset": "cm",
    "axes.formatter.use_mathtext": True,
    "axes.edgecolor": "black",
    "axes.linewidth": 0.9,
    "xtick.direction": "out",
    "ytick.direction": "out",
    "xtick.major.size": 4,
    "ytick.major.size": 4,
    "xtick.color": "black",
    "ytick.color": "black",
})

FILL_COLOR = "#add8e6"
GUIDE_COLOR = "#62a6f4"
LABEL_GREY = "#b4b4b4"
BSS_COLOR = "#1d4ed2"

panels = [
    (TR19_ZAMS, TR19_TAMS, TR19_EDGE, TR19_ISO, TR19_CLUMP, TR19_BSS, TR19_GREY + TR19_GREY2, TR19_TRACKS, TR19_BLUEISO, TR19_AGE_LABELS, TR19_MASS_LABELS),
    (M67_ZAMS, M67_TAMS, M67_EDGE, M67_ISO, M67_CLUMP, M67_BSS, M67_GREY + M67_GREY2, M67_TRACKS, M67_BLUEISO, M67_AGE_LABELS, M67_MASS_LABELS),
    (B39_ZAMS, B39_TAMS, B39_EDGE, B39_ISO, B39_CLUMP, B39_BSS, B39_GREY + B39_GREY2, B39_TRACKS, B39_BLUEISO, B39_AGE_LABELS, B39_MASS_LABELS),
    (B32_ZAMS, B32_TAMS, B32_EDGE, B32_ISO, B32_CLUMP, B32_BSS, B32_GREY + B32_GREY2, B32_TRACKS, B32_BLUEISO, B32_AGE_LABELS, B32_MASS_LABELS),
    (N188_ZAMS, N188_TAMS, N188_EDGE, N188_ISO, N188_CLUMP, N188_BSS, N188_GREY + N188_GREY2, N188_TRACKS, N188_BLUEISO, N188_AGE_LABELS, N188_MASS_LABELS),
    (N6791_ZAMS, N6791_TAMS, N6791_EDGE, N6791_ISO, N6791_CLUMP, N6791_BSS, N6791_GREY + N6791_GREY2, N6791_TRACKS, N6791_BLUEISO, N6791_AGE_LABELS, N6791_MASS_LABELS),
]

COL_LEFT = [0.0468, 0.3704, 0.6940]
COL_W = [0.2846, 0.2817, 0.2807]
ROW_BOTTOM = [0.5395, 0.1184]
ROW_H = [0.3801, 0.3772]


def xs(pts):
    return [p[0] for p in pts]


def ys(pts):
    return [p[1] for p in pts]


def line(ax, pts, **kw):
    sns.lineplot(x=xs(pts), y=ys(pts), sort=False, estimator=None, ax=ax, legend=False, **kw)


fig = plt.figure(figsize=(10.26, 6.84), dpi=100)

for i, (zams, tams, edge, iso, clump, bss, grey, tracks, blueiso, agelabs, masslabs) in enumerate(panels):
    r, c = divmod(i, 3)
    ax = fig.add_axes([COL_LEFT[c], ROW_BOTTOM[r], COL_W[c], ROW_H[r]])
    is_6791 = (i == 5)

    # filled region between ZAMS and TAMS
    tip_y = edge[-1][1]
    poly = [(0, 0)] + tams + edge[1:] + [p for p in reversed(zams) if p[1] < tip_y] + [(0, zams[0][1])]
    ax.fill(xs(poly), ys(poly), color=FILL_COLOR, lw=0, zorder=1)

    # guide tracks & isochrones
    for t in tracks:
        line(ax, t, color=GUIDE_COLOR, linewidth=0.9, zorder=2)
    for t in blueiso:
        line(ax, t, color=GUIDE_COLOR, linewidth=0.9, zorder=2)
    line(ax, edge, color=GUIDE_COLOR, linewidth=0.9, zorder=2)

    # cluster members
    sns.scatterplot(x=xs(grey), y=ys(grey), ax=ax, s=7 if is_6791 else 6,
                    color="#a3a3a3" if is_6791 else "#8a8a8a", alpha=0.75 if is_6791 else 1.0,
                    linewidth=0, zorder=3, legend=False)

    # isochrone of the cluster
    line(ax, iso, color="black", linewidth=1.5, zorder=4)
    line(ax, clump, color="black", linewidth=1.3, zorder=4)

    # ZAMS (dotted) & TAMS (dashed)
    ax.plot(xs(zams), ys(zams), color="black", linewidth=2.4, linestyle=(0, (0.8, 1.6)),
            dash_capstyle="round", zorder=5)
    ax.plot(xs(tams), ys(tams), color="black", linewidth=1.4, linestyle=(0, (3.5, 2)), zorder=5)

    # blue stragglers
    sns.scatterplot(x=xs(bss), y=ys(bss), ax=ax, s=40, color=BSS_COLOR, edgecolor="black",
                    linewidth=0.9, zorder=6, legend=False)

    # guide labels
    for txt, lx, ly in agelabs:
        ax.text(lx, ly, txt, color=LABEL_GREY, fontsize=9, ha="left", va="center", zorder=7)
    for txt, lx, ly in masslabs:
        ax.text(lx, ly, txt + "\n" + r"$\mathrm{M}_{\odot}$", color=LABEL_GREY, fontsize=9,
                ha="left", va="center", linespacing=1.15, zorder=7)

    ax.text(0.024, 0.03, CLUSTER_NAMES[i] + "\n" + CLUSTER_AGES[i], transform=ax.transAxes,
            fontsize=12.5, ha="left", va="bottom", linespacing=1.15, zorder=8)

    ax.set_xlim(0, 1.5)
    ax.set_ylim(4.92, 0)
    ax.set_xticks(X_TICKS)
    ax.set_yticks(Y_TICKS)
    if r == 1:
        ax.set_xticklabels(X_TICK_LABELS, fontsize=11)
        ax.set_xlabel(r"$(\mathrm{G_{BP}} - \mathrm{G_{RP}})_0$", fontsize=17, labelpad=4)
    else:
        ax.set_xticklabels([])
        ax.set_xlabel("")
    if c == 0:
        ax.set_yticklabels(Y_TICK_LABELS, fontsize=11)
        ax.set_ylabel(r"$\mathrm{M_G}$", fontsize=17)
        ax.yaxis.set_label_coords(-0.085, 0.5)
    else:
        ax.set_yticklabels([])
        ax.set_ylabel("")
    for sp in ax.spines.values():
        sp.set_visible(True)
        sp.set_color("black")

fig.text(0.978, 0.986, "3", fontsize=12, ha="center", va="center")

fig.savefig("out.png", dpi=100)
